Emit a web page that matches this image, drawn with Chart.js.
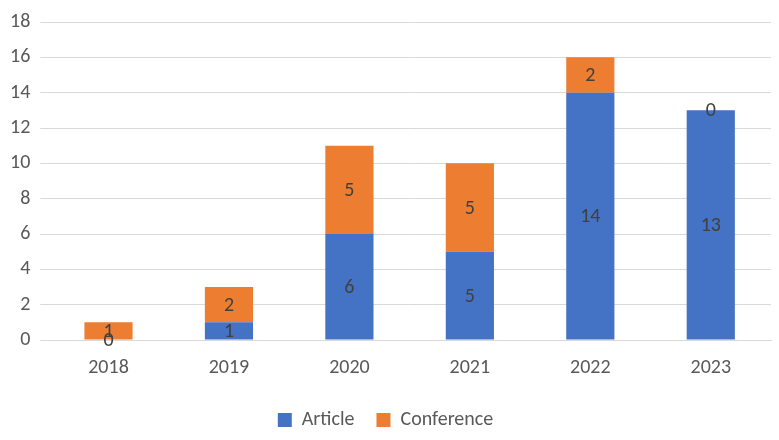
<!DOCTYPE html>
<html><head><meta charset="utf-8">
<script src="https://cdn.jsdelivr.net/npm/chart.js@4"></script>
<style>html,body{margin:0;padding:0;background:#fff}#w{width:779px;height:440px}</style>
</head><body><div id="w"><canvas id="c"></canvas></div>
<script>
const categories=["2018","2019","2020","2021","2022","2023"];
const article=[0,1,6,5,14,13];
const conference=[1,2,5,5,2,0];
const FF='Calibri, Carlito, "Liberation Sans", sans-serif';
const labelsPlugin={id:'lbl',afterDatasetsDraw(chart){const ctx=chart.ctx;ctx.save();ctx.font='20px '+FF;ctx.fillStyle='#404040';ctx.textAlign='center';ctx.textBaseline='middle';
chart.data.datasets.forEach((ds,i)=>{chart.getDatasetMeta(i).data.forEach((el,j)=>{const y=(el.y+el.base)/2;ctx.fillText(String(ds.data[j]),el.x,y+1);});});ctx.restore();}};
new Chart(document.getElementById('c'),{type:'bar',data:{labels:categories,datasets:[
{label:'Article',data:article,backgroundColor:'#4472C4'},
{label:'Conference',data:conference,backgroundColor:'#ED7D31'}]},
options:{responsive:true,maintainAspectRatio:false,animation:false,
layout:{padding:{left:0,right:8,top:2,bottom:0}},
datasets:{bar:{barPercentage:0.4,categoryPercentage:1}},
scales:{x:{stacked:true,grid:{display:false},border:{color:'#d9d9d9'},ticks:{color:'#595959',font:{size:20,family:FF},padding:8}},
y:{stacked:true,min:0,max:18,ticks:{stepSize:2,color:'#595959',font:{size:20,family:FF},padding:10},grid:{color:'#d9d9d9'},border:{display:false}}},
plugins:{legend:{position:'bottom',labels:{boxWidth:14,boxHeight:14,color:'#595959',font:{size:20,family:FF},padding:22}},tooltip:{enabled:false}}},
plugins:[labelsPlugin]});
</script></body></html>
